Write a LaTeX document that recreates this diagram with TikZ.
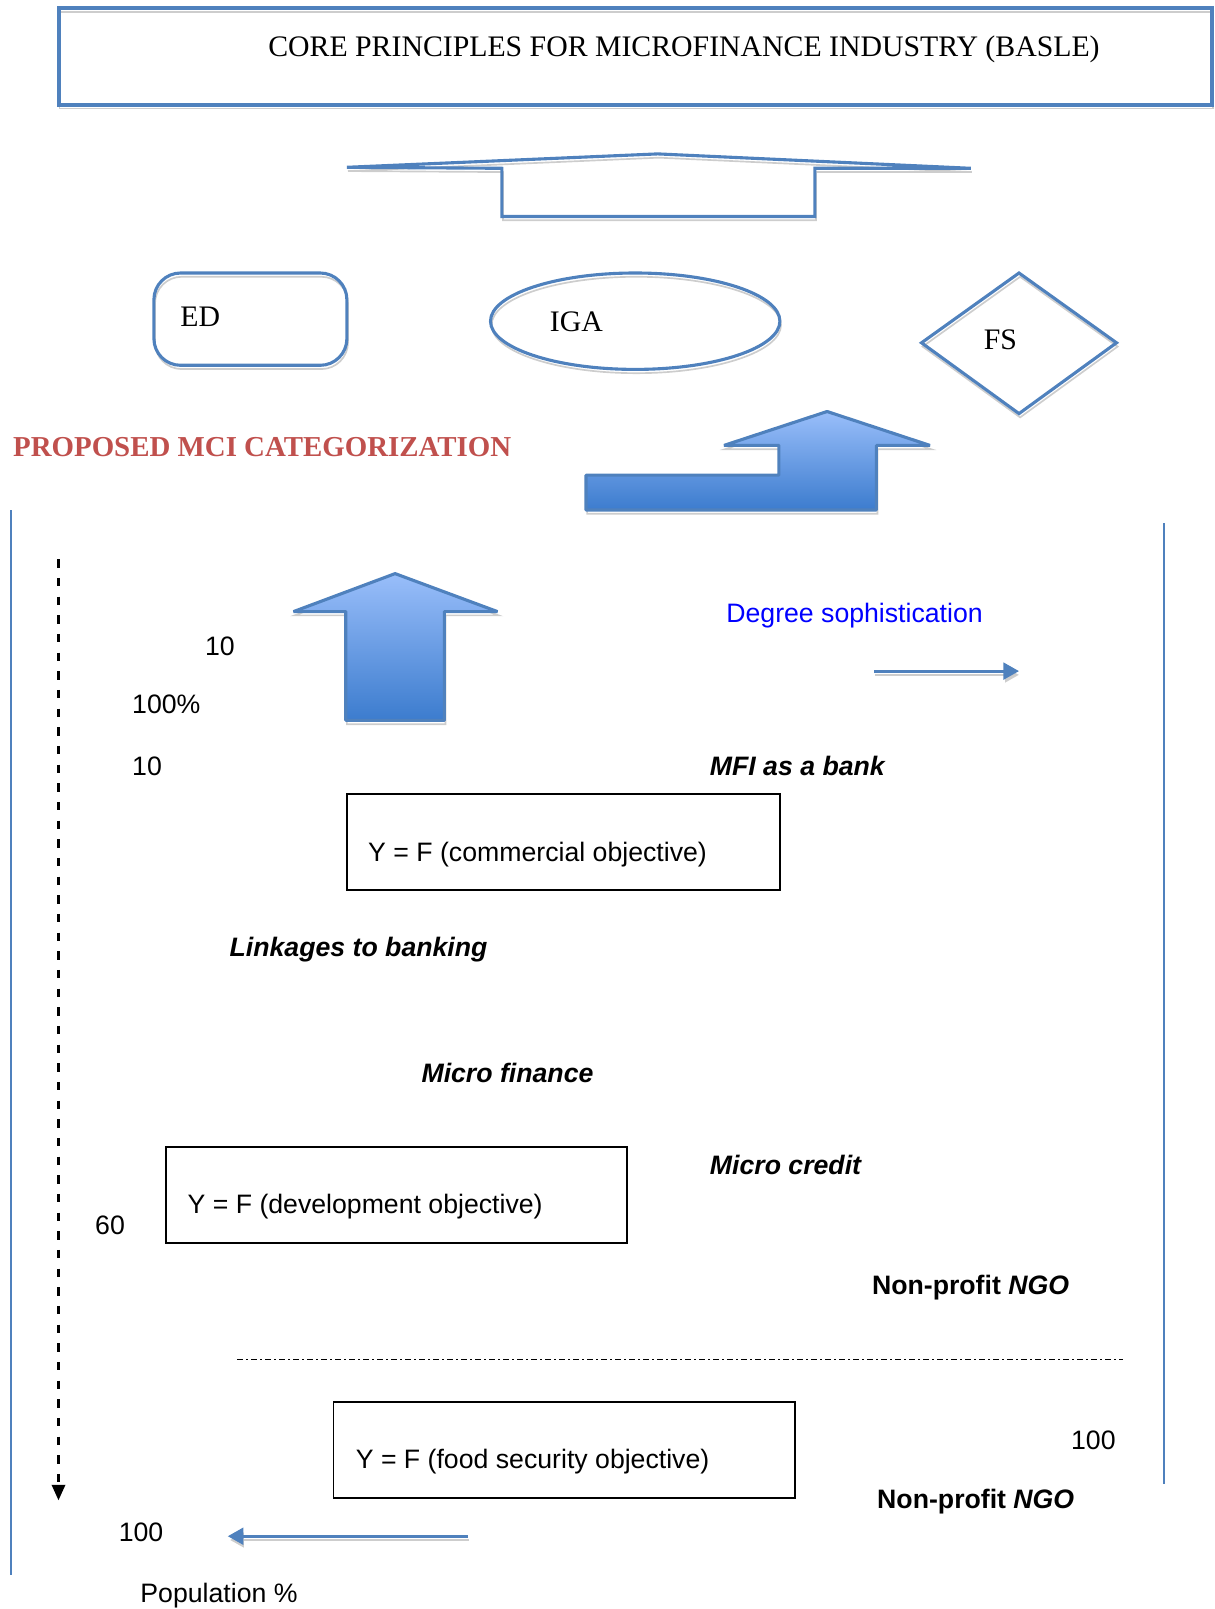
\documentclass[tikz,border=0pt]{standalone}
\usepackage{fontspec}
\setmainfont{Liberation Serif}
\newfontfamily\arialfont{Liberation Sans}
\usetikzlibrary{arrows.meta}

\definecolor{officeblue}{RGB}{79,129,189}
\definecolor{shadowgray}{RGB}{205,205,205}
\definecolor{titlered}{RGB}{192,80,77}
\definecolor{arrowtop}{RGB}{153,190,250}
\definecolor{arrowbottom}{RGB}{60,124,206}

\tikzset{every picture/.style={line width=0.75pt}}
\tikzset{
  wshadow/.style={preaction={draw=shadowgray,transform canvas={shift={(0.5pt,-1.7pt)}}}},
  blueshape/.style={draw=officeblue,line width=1.4pt,line join=miter,wshadow},
  blockarrow/.style={draw=officeblue,line width=1.4pt,line join=bevel,top color=arrowtop,bottom color=arrowbottom,wshadow},
  serifbig/.style={font=\fontsize{13.4}{16}\selectfont},
  arial/.style={font=\arialfont\fontsize{12}{14}\selectfont},
  arialbi/.style={font=\arialfont\fontsize{12}{14}\selectfont\bfseries\itshape},
  bluearrow/.style={draw=officeblue,line width=1.3pt,-{Triangle[length=7pt,width=7.5pt]},wshadow},
}

\begin{document}
\begin{tikzpicture}[x=0.45pt,y=0.45pt,yscale=-1]
\useasboundingbox (0,0) rectangle (1215,1609);

%Shape: Rectangle
\draw [blueshape,line width=1.8pt] (58.5,8.2) rectangle (1212,104.7) ;
% Text Node
\node [serifbig,inner sep=0pt] (title) at (684,49) {CORE PRINCIPLES FOR MICROFINANCE INDUSTRY (BASLE)};

%Shape: Up Arrow
\draw [blueshape] (346.9,167.3) -- (657.8,153.9) -- (970.8,168.3) -- (814.8,168.3) -- (814.8,216.5) -- (501.8,216.5) -- (501.8,168.3) -- cycle ;

%Shape: Rounded Rect
\draw [blueshape,rounded corners=12pt] (153.9,273) rectangle (346.9,365.3) ;
%Shape: Ellipse
\draw [blueshape] (635.2,321.2) ellipse [x radius=144.7,y radius=48.2] ;
%Shape: Diamond
\draw [blueshape] (1019,273) -- (1116.5,342.8) -- (1019,413.6) -- (921.5,342.8) -- cycle ;
% Text Node
\node [serifbig,inner sep=0pt,anchor=west] (ed) at (179.6,317) {ED};
% Text Node
\node [serifbig,inner sep=0pt,anchor=west] (iga) at (549,322) {IGA};
% Text Node
\node [serifbig,inner sep=0pt,anchor=west] (fs) at (983,339.5) {FS};

% Text Node
\node [font=\fontsize{13}{16}\selectfont\bfseries,inner sep=0pt,anchor=west,text=titlered] (mcititle) at (12.3,447) {PROPOSED MCI CATEGORIZATION};

%Shape: Bent Up Arrow
\draw [blockarrow] (586,510) -- (586,475.1) -- (778.9,475.1) -- (778.9,445.4) -- (724,445.4) -- (827.1,411.5) -- (930,445.4) -- (876.4,445.4) -- (876.4,510) -- cycle ;

%Straight Lines
\draw [officeblue,line width=0.9pt] (11.3,510) -- (11.3,1575) ;
%Straight Lines
\draw [officeblue,line width=0.9pt] (1163.7,523.4) -- (1163.7,1483.9) ;

%Straight Lines
\coordinate (popstart) at (58.5,559.3);
\coordinate (popend) at (58.5,1500.3);
\draw [line width=1.1pt,dash pattern=on 3.8pt off 4.6pt,-{Triangle[length=7pt,width=6pt]}] (popstart) -- (popend) ;

%Shape: Up Arrow
\draw [blockarrow] (345.8,720.4) -- (345.8,611.6) -- (293.5,611.6) -- (395.1,573.6) -- (497.5,611.6) -- (444.3,611.6) -- (444.3,720.4) -- cycle ;

% Text Node
\node [arial,inner sep=0pt,anchor=west] (tenA) at (204.2,646.5) {10};
% Text Node
\node [arial,inner sep=0pt,anchor=west] (hundredpct) at (131.4,704.5) {100\%};
% Text Node
\node [arial,inner sep=0pt,anchor=west] (tenB) at (131.4,766) {10};
% Text Node
\node [arial,inner sep=0pt,anchor=west,text=blue] (degree) at (725.5,616) {Degree sophistication};

%Straight Lines
\coordinate (degstart) at (874.3,671.1);
\coordinate (degend) at (1019,671.1);
\draw [bluearrow] (degstart) -- (degend) ;

% Text Node
\node [arialbi,inner sep=0pt,anchor=west] (mfibank) at (709.1,765.5) {MFI as a bank};

%Shape: Rectangle
\draw [line width=0.8pt] (346.9,794.3) rectangle (779.9,889.7) ;
% Text Node
\node [arial,inner sep=0pt,anchor=west] (commercial) at (367.4,854.5) {Y = F (commercial objective)};

% Text Node
\node [arialbi,inner sep=0pt,anchor=west] (linkages) at (228.8,950) {Linkages to banking};
% Text Node
\node [arialbi,inner sep=0pt,anchor=west] (microfin) at (420.7,1072.5) {Micro finance};
% Text Node
\node [arialbi,inner sep=0pt,anchor=west] (microcred) at (709.1,1164.5) {Micro credit};

%Shape: Rectangle
\draw [line width=0.8pt] (166.2,1147.3) rectangle (627,1242.7) ;
% Text Node
\node [arial,inner sep=0pt,anchor=west] (development) at (186.8,1207) {Y = F (development objective)};
% Text Node
\node [arial,inner sep=0pt,anchor=west] (sixty) at (94.4,1225) {60};
% Text Node
\node [arial,inner sep=0pt,anchor=west] (ngoA) at (871.2,1287.5) {\bfseries Non-profit \itshape NGO};

%Straight Lines
\draw [line width=0.7pt,dash pattern=on 2.7pt off 1.35pt on 0.9pt off 1.35pt] (237,1359.7) -- (1122.7,1359.7) ;

%Shape: Rectangle
\draw [line width=0.8pt] (333.5,1401.8) rectangle (795.3,1498.3) ;
% Text Node
\node [arial,inner sep=0pt,anchor=west] (foodsec) at (355,1461.5) {Y = F (food security objective)};
% Text Node
\node [arial,inner sep=0pt,anchor=west] (hundredA) at (1070.3,1440.5) {100};
% Text Node
\node [arial,inner sep=0pt,anchor=west] (ngoB) at (876.4,1502) {\bfseries Non-profit \itshape NGO};
% Text Node
\node [arial,inner sep=0pt,anchor=west] (hundredB) at (118,1532) {100};

%Straight Lines
\coordinate (leftstart) at (468,1536.2);
\coordinate (leftend) at (227.8,1536.2);
\draw [bluearrow] (leftstart) -- (leftend) ;

% Text Node
\node [arial,inner sep=0pt,anchor=west] (population) at (139.6,1595.5) {Population \%};

\end{tikzpicture}
\end{document}
